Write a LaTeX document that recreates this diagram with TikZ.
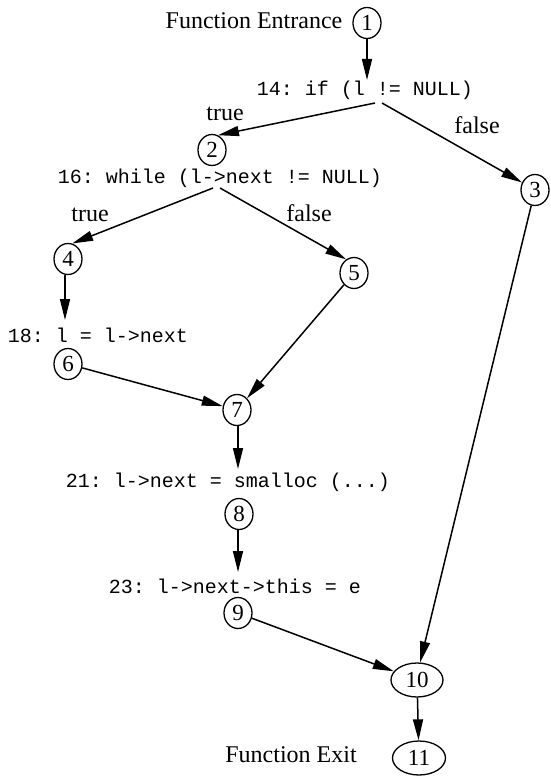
\documentclass[tikz,border=0pt]{standalone}
\usepackage{fontspec}
\setmainfont{Liberation Serif}
\setmonofont{Liberation Mono}
\usetikzlibrary{shapes.geometric,arrows.meta,calc}
\begin{document}
\begin{tikzpicture}[x=1pt,y=-1pt,
  vtx/.style={draw,ellipse,line width=1.3pt,inner sep=0pt,minimum width=28pt,minimum height=31pt,font=\fontsize{23}{23}\selectfont},
  wvtx/.style={vtx,minimum width=52pt,minimum height=34pt},
  code/.style={inner sep=0pt,font=\ttfamily\fontsize{20}{20}\selectfont},
  lbl/.style={inner sep=0pt,font=\fontsize{24}{24}\selectfont},
  arr/.style={line width=1.5pt,-{Triangle[length=21pt,width=10pt]}}]
\useasboundingbox (0,0) rectangle (551,776);
% vertices
\node[vtx] (n1) at (367,23) {1};
\node[vtx] (n2) at (212,150) {2};
\node[vtx] (n3) at (535,190) {3};
\node[vtx] (n4) at (68,259) {4};
\node[vtx] (n5) at (354,273) {5};
\node[vtx] (n6) at (68,364) {6};
\node[vtx] (n7) at (237,410) {7};
\node[vtx] (n8) at (239,514) {8};
\node[vtx] (n9) at (238,613) {9};
\node[wvtx] (n10) at (417,680) {10};
\node[wvtx,minimum width=53pt] (n11) at (419,758) {11};
% labels
\node[lbl] (fe) at (254,21) {Function Entrance};
\node[lbl] (fx) at (291,755) {Function Exit};
\node[lbl] (t1) at (225,114) {true};
\node[lbl] (f1) at (477,125) {false};
\node[lbl] (t2) at (90,215) {true};
\node[lbl] (f2) at (309,213) {false};
% code
\node[code] (c14) at (365,90) {14: if (l != NULL)};
\node[code] (c16) at (220,178) {16: while (l->next != NULL)};
\node[code] (c18) at (98,335) {18: l = l->next};
\node[code] (c21) at (228,482) {21: l->next = smalloc (...)};
\node[code] (c23) at (235,586) {23: l->next->this = e};
% start points on code lines
\coordinate (s14a) at (375,103);
\coordinate (s14b) at (382,103);
\coordinate (s16a) at (213,188);
\coordinate (s16b) at (220,188);
% end points above code lines
\coordinate (e14) at (367,80);
\coordinate (e18) at (65,320);
\coordinate (e21) at (238,469);
\coordinate (e23) at (238,572);
% connectors
\draw[arr] (n1) -- (e14);
\draw[arr] (s14a) -- (n2.68);
\draw[arr] (s14b) -- (n3.150);
\draw[arr] (s16a) -- (n4.75);
\draw[arr] (s16b) -- (n5.120);
\draw[arr] (n4.south -| e18) -- (e18);
\draw[arr] (n6) -- (n7);
\draw[arr] (n5) -- (n7);
\draw[arr] (n7.south -| e21) -- (e21);
\draw[arr] (n8.south -| e23) -- (e23);
\draw[arr] (n9) -- (n10);
\draw[arr] (n3) -- (n10.80);
\draw[arr] (n10) -- (n11);
\end{tikzpicture}
\end{document}
